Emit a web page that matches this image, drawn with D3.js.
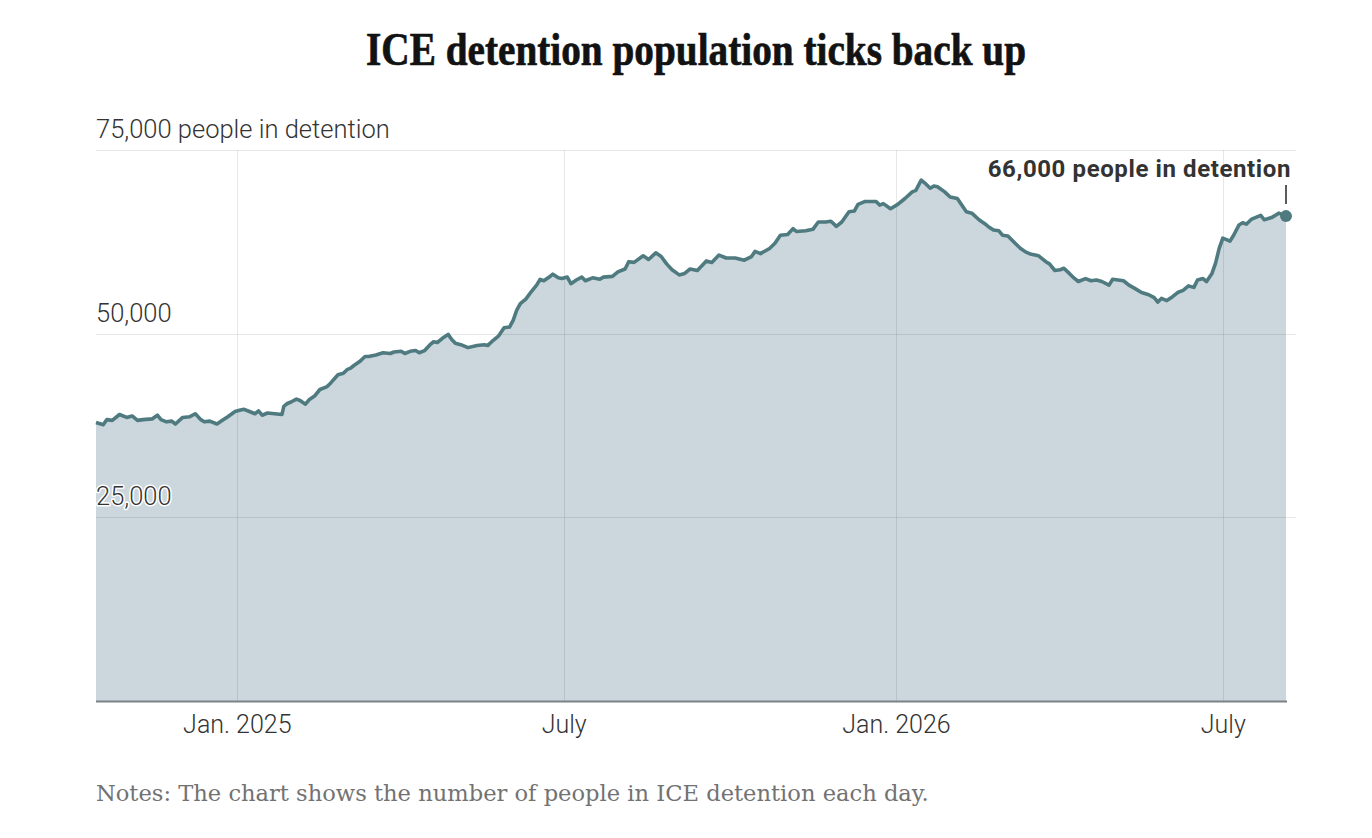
<!DOCTYPE html>
<html lang="en">
<head>
    <meta charset="UTF-8">
    <title>ICE detention population ticks back up</title>
    <script src="https://cdnjs.cloudflare.com/ajax/libs/d3/7.8.5/d3.min.js"></script>
    <style>
        body {
            margin: 0;
            background: #fff;
        }
        .chart-title {
            font-family: "Liberation Serif", serif;
            font-weight: bold;
            font-size: 47px;
            fill: #121212;
            stroke: #121212;
            stroke-width: 0.7px;
            text-anchor: middle;
        }
        .y-label {
            font-family: Roboto, sans-serif;
            font-weight: 300;
            font-size: 25.5px;
            fill: #333;
            paint-order: stroke;
            stroke: #fff;
            stroke-width: 3px;
            stroke-linejoin: round;
        }
        .x-axis text {
            font-family: Roboto, sans-serif;
            font-weight: 300;
            font-size: 25px;
            fill: #333;
        }
        .x-axis path, .x-axis line {
            display: none;
        }
        .grid line {
            stroke: #000;
            stroke-opacity: 0.09;
            shape-rendering: crispEdges;
        }
        .grid path {
            stroke-width: 0;
        }
        .area {
            fill: #cbd7dc;
        }
        .line {
            fill: none;
            stroke: #4e7a80;
            stroke-width: 3.6;
            stroke-linejoin: round;
        }
        .annotation {
            font-family: Roboto, sans-serif;
            font-weight: bold;
            font-size: 24px;
            letter-spacing: 0.6px;
            fill: #333;
            text-anchor: end;
        }
        .note {
            font-family: "DejaVu Serif", serif;
            font-size: 22.6px;
            fill: #727272;
        }
    </style>
</head>
<body>
    <div id="chart"></div>

    <script>
        const dates = [
            "2024-10-15","2024-10-19","2024-10-21","2024-10-24","2024-10-28","2024-11-01","2024-11-04","2024-11-07",
            "2024-11-10","2024-11-15","2024-11-18","2024-11-20","2024-11-23","2024-11-26","2024-11-28","2024-12-02",
            "2024-12-06","2024-12-09","2024-12-12","2024-12-14","2024-12-17","2024-12-21","2024-12-24","2024-12-27",
            "2024-12-31","2025-01-03","2025-01-05","2025-01-08","2025-01-11","2025-01-13","2025-01-15","2025-01-18",
            "2025-01-22","2025-01-26","2025-01-27","2025-01-29","2025-01-31","2025-02-03","2025-02-05","2025-02-08",
            "2025-02-10","2025-02-13","2025-02-16","2025-02-20","2025-02-22","2025-02-26","2025-03-01","2025-03-03",
            "2025-03-05","2025-03-07","2025-03-10","2025-03-13","2025-03-15","2025-03-19","2025-03-23","2025-03-27",
            "2025-03-29","2025-04-02","2025-04-04","2025-04-07","2025-04-10","2025-04-12","2025-04-15","2025-04-18",
            "2025-04-20","2025-04-22","2025-04-25","2025-04-28","2025-04-30","2025-05-02","2025-05-05","2025-05-09",
            "2025-05-14","2025-05-18","2025-05-20","2025-05-23","2025-05-26","2025-05-29","2025-06-01","2025-06-03",
            "2025-06-05","2025-06-07","2025-06-10","2025-06-13","2025-06-16","2025-06-18","2025-06-20","2025-06-23",
            "2025-06-25","2025-06-28","2025-06-30","2025-07-03","2025-07-05","2025-07-08","2025-07-11","2025-07-13",
            "2025-07-17","2025-07-21","2025-07-23","2025-07-28","2025-07-31","2025-08-04","2025-08-06","2025-08-09",
            "2025-08-14","2025-08-17","2025-08-21","2025-08-24","2025-08-27","2025-08-30","2025-09-03","2025-09-06",
            "2025-09-09","2025-09-13","2025-09-18","2025-09-21","2025-09-25","2025-09-29","2025-10-04","2025-10-09",
            "2025-10-13","2025-10-15","2025-10-18","2025-10-23","2025-10-26","2025-10-29","2025-11-02","2025-11-05",
            "2025-11-07","2025-11-12","2025-11-16","2025-11-19","2025-11-23","2025-11-26","2025-11-29","2025-12-02",
            "2025-12-06","2025-12-09","2025-12-11","2025-12-15","2025-12-21","2025-12-23","2025-12-25","2025-12-29",
            "2026-01-02","2026-01-06","2026-01-10","2026-01-12","2026-01-15","2026-01-17","2026-01-20","2026-01-22",
            "2026-01-24","2026-01-28","2026-01-31","2026-02-04","2026-02-07","2026-02-09","2026-02-12","2026-02-16",
            "2026-02-19","2026-02-21","2026-02-24","2026-02-27","2026-03-01","2026-03-04","2026-03-08","2026-03-11",
            "2026-03-14","2026-03-17","2026-03-21","2026-03-25","2026-03-27","2026-03-30","2026-04-02","2026-04-04",
            "2026-04-07","2026-04-09","2026-04-12","2026-04-16","2026-04-19","2026-04-22","2026-04-25","2026-04-29",
            "2026-05-01","2026-05-04","2026-05-07","2026-05-10","2026-05-13","2026-05-17","2026-05-21","2026-05-24",
            "2026-05-26","2026-05-28","2026-05-31","2026-06-03","2026-06-06","2026-06-09","2026-06-12","2026-06-15",
            "2026-06-17","2026-06-20","2026-06-22","2026-06-25","2026-06-27","2026-06-29","2026-07-01","2026-07-05",
            "2026-07-07","2026-07-10","2026-07-12","2026-07-14","2026-07-17","2026-07-20","2026-07-22","2026-07-24",
            "2026-07-28","2026-08-01","2026-08-05"
        ];
        const detained = [
            37900,37600,38300,38200,39000,38600,38800,38200,
            38300,38400,38900,38300,38000,38100,37700,38600,
            38700,39100,38300,38000,38100,37700,38200,38700,
            39400,39600,39700,39400,39100,39500,38900,39200,
            39100,39000,40100,40500,40700,41100,40900,40400,
            41000,41500,42400,42800,43300,44400,44600,45100,
            45300,45700,46200,46900,46900,47100,47400,47300,
            47500,47600,47300,47600,47700,47400,47700,48500,
            48900,48800,49400,49900,49200,48700,48500,48100,
            48400,48500,48400,49100,49700,50800,50900,51800,
            53200,54100,54700,55700,56600,57400,57200,57700,
            58100,57600,57500,57700,56800,57300,57700,57200,
            57600,57400,57700,57800,58400,58800,59800,59700,
            60600,60100,61000,60500,59500,58700,58000,58200,
            58800,58600,59900,59700,60700,60300,60300,60000,
            60500,61200,60900,61600,62300,63400,63500,64300,
            63900,64000,64200,65200,65200,65300,64600,65200,
            66600,66700,67600,68000,68000,67500,67700,67000,
            67600,68400,69300,69500,70900,70500,69800,70100,
            70000,69300,68600,68400,67300,66600,66400,65500,
            65000,64600,64100,64000,63400,63300,62300,61600,
            61100,60800,60600,59800,59500,58600,58700,58900,
            58200,57700,57100,57500,57200,57300,57100,56600,
            57400,57300,57200,56600,56200,55600,55300,54900,
            54300,54800,54500,55000,55600,55900,56500,56300,
            57300,57500,57100,58200,59600,61600,63000,62600,
            63400,64800,65100,64900,65600,65900,66100,65500,
            65800,66400,66000
        ];

        const yTicks = [25000, 50000, 75000];
        const yTickLabels = ["25,000", "50,000", "75,000 people in detention"];
        const xTicks = ["2025-01-01", "2025-07-01", "2026-01-01", "2026-07-01"];
        const xTickLabels = ["Jan. 2025", "July", "Jan. 2026", "July"];
        const latestLabel = "66,000 people in detention";

        const parseDate = d3.timeParse("%Y-%m-%d");
        const data = dates.map((d, i) => ({date: parseDate(d), value: detained[i]}));

        const W = 1372, H = 838;
        const plot = {left: 96, right: 1286, top: 150, bottom: 701};
        const gridRight = 1296;

        const svg = d3.select("#chart")
            .append("svg")
            .attr("width", W)
            .attr("height", H);

        const x = d3.scaleTime()
            .domain(d3.extent(data, d => d.date))
            .range([plot.left, plot.right]);

        const y = d3.scaleLinear()
            .domain([0, 75000])
            .range([plot.bottom, plot.top]);

        // Title
        svg.append("text")
            .attr("class", "chart-title")
            .attr("x", 696)
            .attr("y", 65)
            .attr("textLength", 660)
            .attr("lengthAdjust", "spacingAndGlyphs")
            .text("ICE detention population ticks back up");

        // Area under the line
        svg.append("path")
            .datum(data)
            .attr("class", "area")
            .attr("d", d3.area()
                .x(d => x(d.date))
                .y0(y(0))
                .y1(d => y(d.value)));

        // Grid lines
        svg.append("g")
            .attr("class", "grid")
            .attr("transform", `translate(0,${plot.bottom})`)
            .call(d3.axisBottom(x)
                .tickValues(xTicks.map(parseDate))
                .tickSize(-(plot.bottom - plot.top))
                .tickFormat(""));

        svg.append("g")
            .attr("class", "grid")
            .attr("transform", `translate(${plot.left},0)`)
            .call(d3.axisLeft(y)
                .tickValues(yTicks)
                .tickSize(-(gridRight - plot.left))
                .tickFormat(""));

        // Baseline
        svg.append("line")
            .attr("x1", plot.left)
            .attr("x2", plot.right + 1)
            .attr("y1", y(0) + 0.5)
            .attr("y2", y(0) + 0.5)
            .style("stroke", "#7d8285")
            .style("stroke-width", 2);

        // Line
        svg.append("path")
            .datum(data)
            .attr("class", "line")
            .attr("d", d3.line()
                .x(d => x(d.date))
                .y(d => y(d.value)));

        // Y labels sit above their grid lines
        svg.selectAll(".y-label")
            .data(yTicks)
            .enter().append("text")
            .attr("class", "y-label")
            .attr("x", plot.left)
            .attr("y", d => y(d) - 12)
            .text((d, i) => yTickLabels[i]);

        // X axis labels
        svg.append("g")
            .attr("class", "x-axis")
            .attr("transform", `translate(0,${plot.bottom})`)
            .call(d3.axisBottom(x)
                .tickValues(xTicks.map(parseDate))
                .tickSize(0)
                .tickPadding(14)
                .tickFormat((d, i) => xTickLabels[i]))
            .selectAll("text")
            .attr("dy", "0.71em");

        // Latest value marker and label
        const last = data[data.length - 1];
        svg.append("line")
            .attr("x1", x(last.date))
            .attr("x2", x(last.date))
            .attr("y1", y(last.value) - 31)
            .attr("y2", y(last.value) - 12)
            .style("stroke", "#333")
            .style("stroke-width", 1.6);

        svg.append("circle")
            .attr("cx", x(last.date))
            .attr("cy", y(last.value))
            .attr("r", 6)
            .style("fill", "#4e7a80");

        svg.append("text")
            .attr("class", "annotation")
            .attr("x", x(last.date) + 5)
            .attr("y", y(last.value) - 39)
            .text(latestLabel);

        // Note
        svg.append("text")
            .attr("class", "note")
            .attr("x", plot.left)
            .attr("y", 801)
            .text("Notes: The chart shows the number of people in ICE detention each day.");
    </script>
</body>
</html>
